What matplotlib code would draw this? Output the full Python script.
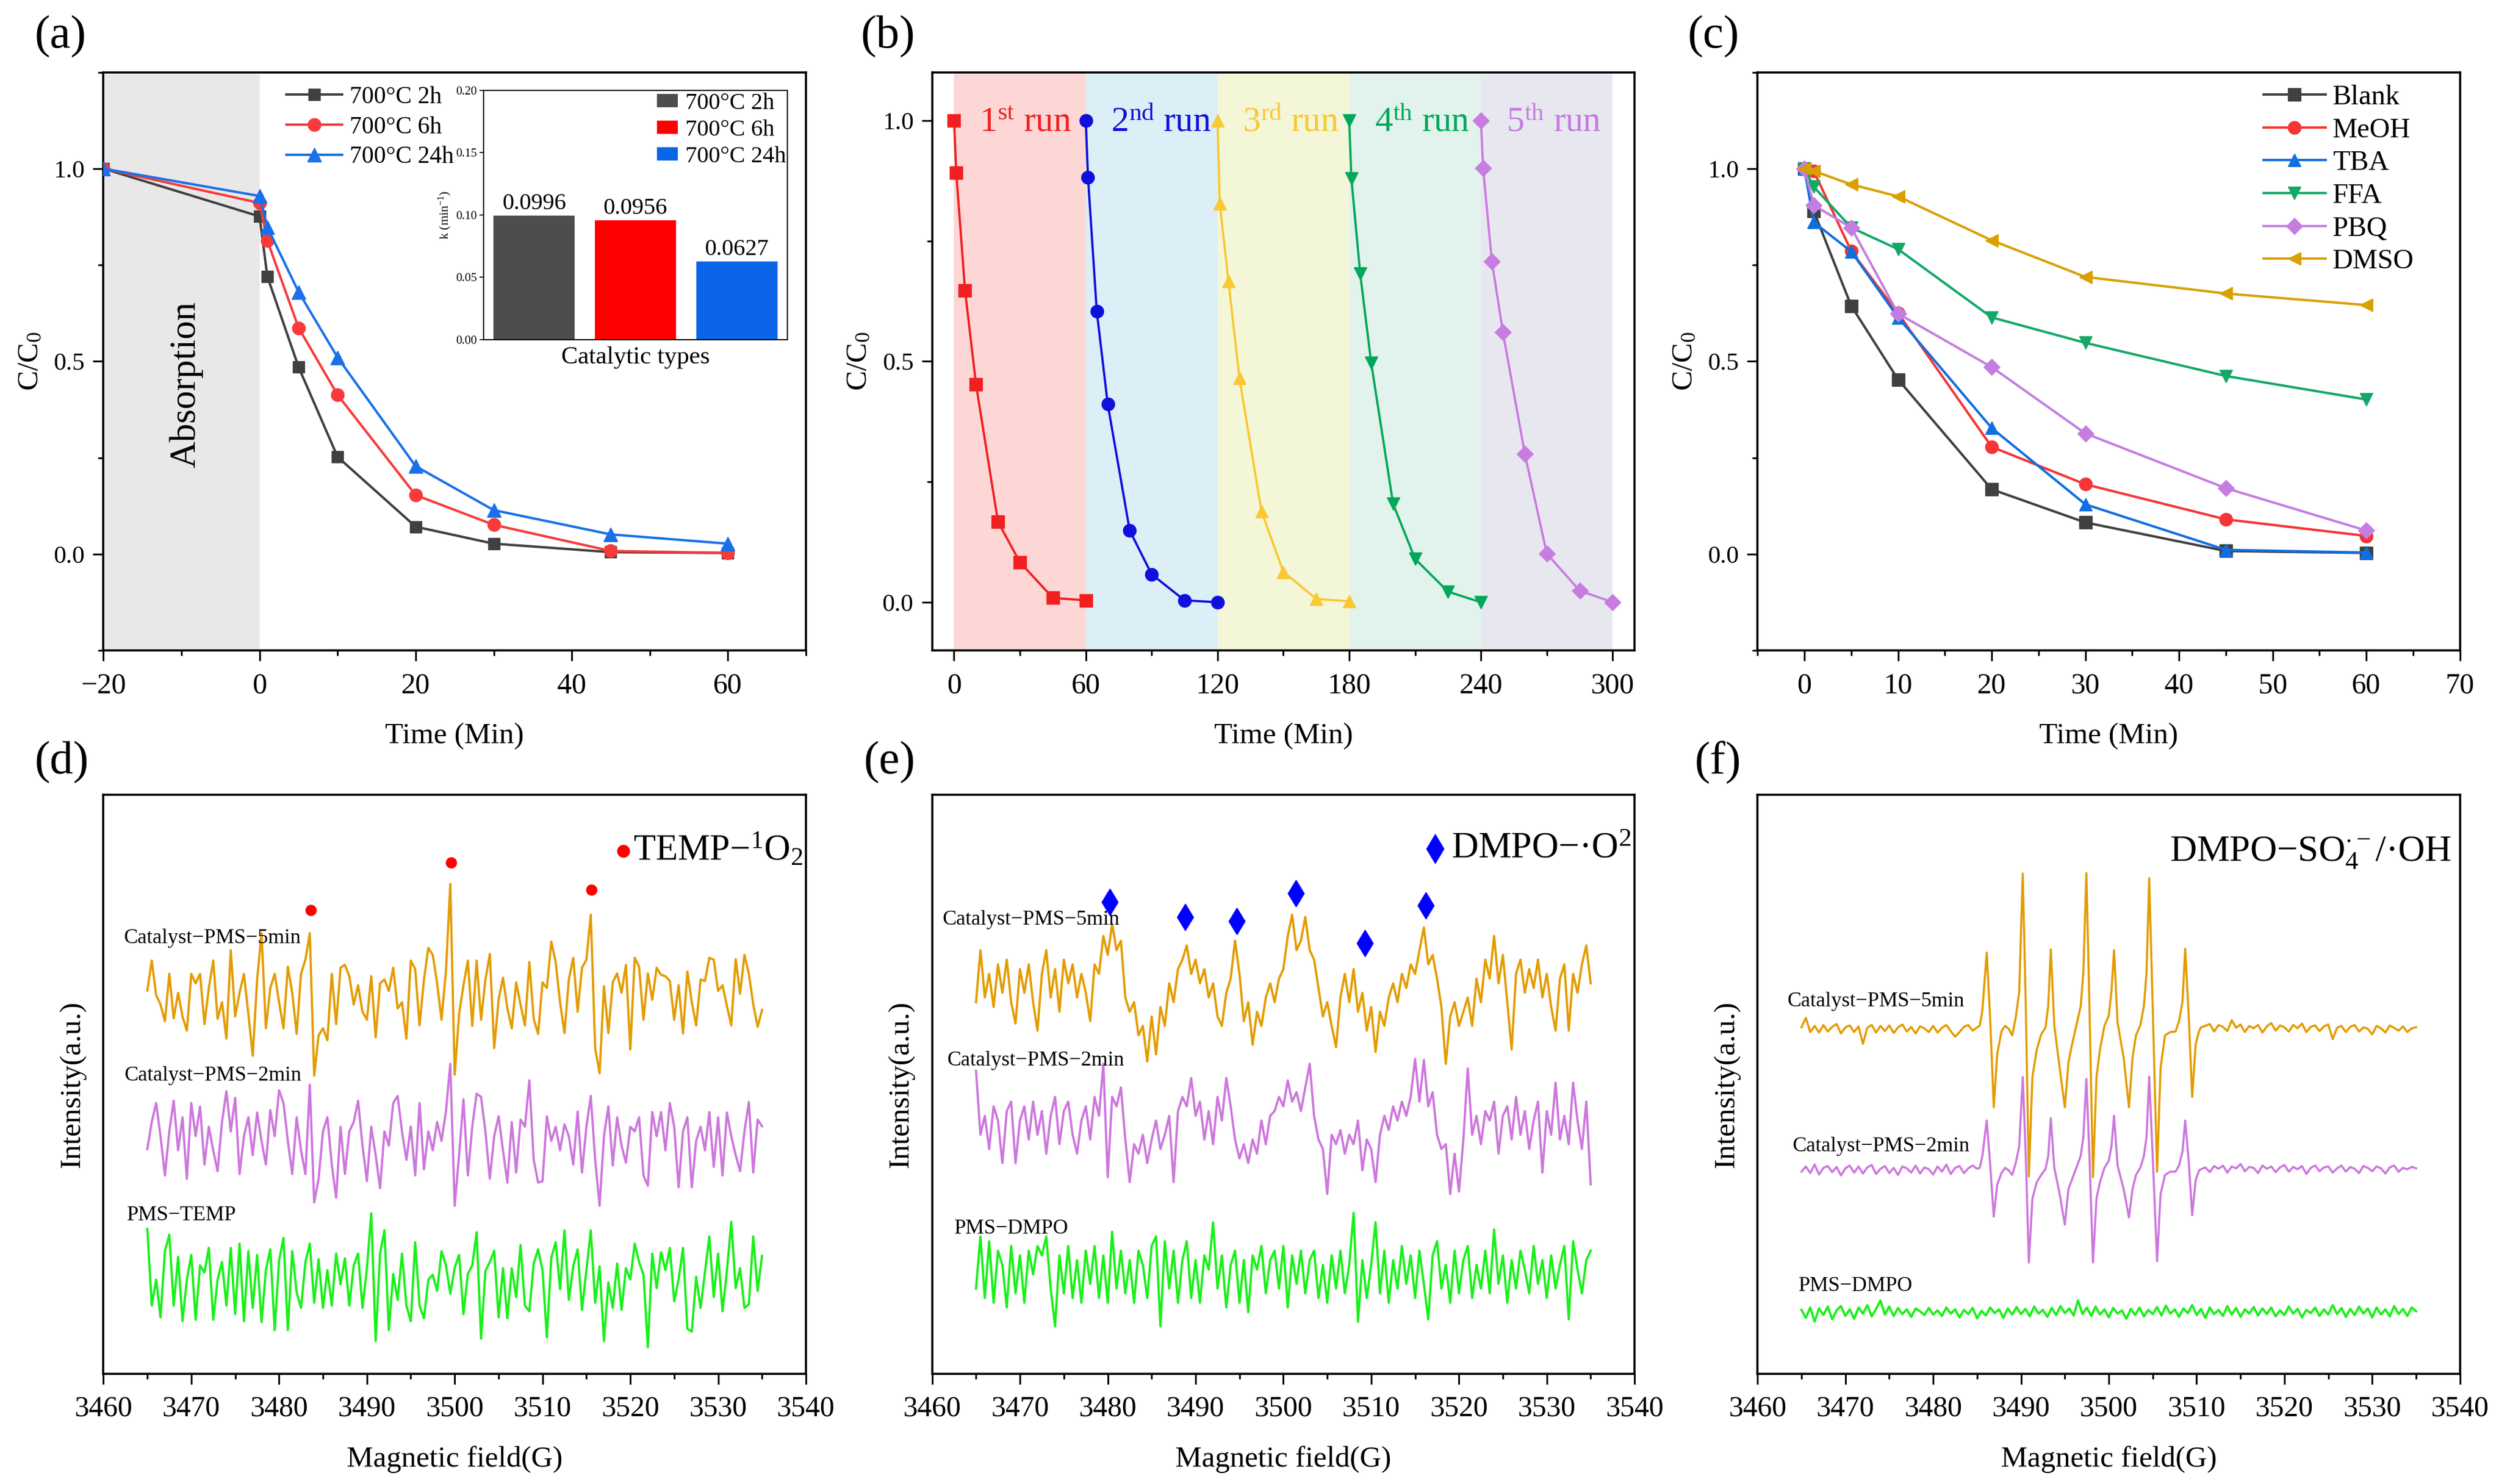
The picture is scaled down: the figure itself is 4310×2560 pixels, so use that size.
import matplotlib
matplotlib.use('Agg')
import matplotlib.pyplot as plt
import numpy as np
from matplotlib.ticker import MultipleLocator, FormatStrFormatter

plt.rcParams['font.family'] = 'serif'
plt.rcParams['font.serif'] = ['Liberation Serif', 'DejaVu Serif']
plt.rcParams['mathtext.fontset'] = 'custom'
plt.rcParams['mathtext.rm'] = 'Liberation Serif'
plt.rcParams['mathtext.it'] = 'Liberation Serif:italic'
plt.rcParams['mathtext.bf'] = 'Liberation Serif:bold'

# ---- (a) degradation vs calcination time ----
A_TIME = [-20, 0, 1, 5, 10, 20, 30, 45, 60]
A_2H = [1.0, 0.876, 0.72, 0.485, 0.252, 0.071, 0.027, 0.005, 0.003]
A_6H = [1.0, 0.911, 0.813, 0.587, 0.413, 0.153, 0.076, 0.008, 0.003]
A_24H = [1.0, 0.929, 0.848, 0.68, 0.51, 0.228, 0.114, 0.051, 0.027]
A_LABELS = ['700°C 2h', '700°C 6h', '700°C 24h']
K_RATE = [0.0996, 0.0956, 0.0627]
K_TEXT = ['0.0996', '0.0956', '0.0627']

# ---- (b) cycling runs ----
B_TIME = [0, 1, 5, 10, 20, 30, 45, 60]
B_START = [0, 60, 120, 180, 240]
B_RUN1 = [1.0, 0.891, 0.647, 0.452, 0.167, 0.083, 0.009, 0.004]
B_RUN2 = [1.0, 0.882, 0.604, 0.411, 0.149, 0.058, 0.004, 0.0]
B_RUN3 = [1.0, 0.828, 0.666, 0.465, 0.189, 0.063, 0.007, 0.002]
B_RUN4 = [1.0, 0.879, 0.682, 0.497, 0.204, 0.090, 0.022, 0.0]
B_RUN5 = [1.0, 0.901, 0.707, 0.561, 0.308, 0.101, 0.024, 0.0]
B_NUM = ['1', '2', '3', '4', '5']
B_SUP = ['st', 'nd', 'rd', 'th', 'th']

# ---- (c) scavengers ----
C_TIME = [0, 1, 5, 10, 20, 30, 45, 60]
C_BLANK = [1.0, 0.89, 0.644, 0.453, 0.168, 0.082, 0.008, 0.003]
C_MEOH = [1.0, 0.994, 0.786, 0.625, 0.278, 0.181, 0.090, 0.047]
C_TBA = [1.0, 0.861, 0.785, 0.614, 0.327, 0.129, 0.011, 0.004]
C_FFA = [1.0, 0.953, 0.847, 0.791, 0.614, 0.548, 0.462, 0.401]
C_PBQ = [1.0, 0.905, 0.847, 0.624, 0.485, 0.313, 0.171, 0.061]
C_DMSO = [1.0, 0.994, 0.959, 0.928, 0.814, 0.719, 0.676, 0.646]
C_LABELS = ['Blank', 'MeOH', 'TBA', 'FFA', 'PBQ', 'DMSO']

# ---- (d) TEMP spectra, sampled every 0.5 G from 3465 to 3535 G ----
D_5MIN = [1.5, 7.8, 0.5, -1.5, -5, 5, -4.4, 1.0, -4, -7, 5, 3, 5, -5.6, 2, 7.8, -4.5, -1,
          -8.7, 10, -4, 1, 5, -3.5, -12.3, 3.8, 13.6, -6.5, 2, 5, -1, -6.5, 6.5, 1, -7.7, 5,
          8, 13.6, -16.5, -8, -6.5, -9, 5, -5.6, 6.3, 6.9, 4.5, -1.5, 2.6, -3, -4.7, 4.5,
          -8.4, 3, 3.8, 1.4, 6.3, -2.3, -1, -8.7, 7.8, 6, -5.9, 3.8, 10.5, 9, 3, -4.7, 5.5,
          24, -16.3, -3.5, 2.6, 7.8, -6, 7.8, -4.7, 3.8, 9.2, -10.7, -0.5, 4.2, -2.3, -6.5,
          3.2, -1.5, -5.9, 7.5, -4.5, -7.7, 3.2, 2.0, 11.8, 7.5, -1, -7.5, 3.8, 8.4, -3,
          6.3, 8, 17.5, -10.8, -16, 2.4, -7.5, 3.2, 5.1, 1, 6.9, -11, 8.4, 6.5, -4.7, 5.1,
          -0.5, 6.3, 4.8, 4.5, 3.5, -4.7, 2.6, -7.6, 5.5, -1, -5.9, 3.8, 3.5, 8.4, 8, 1.4,
          2.6, -1.8, -5.9, 8.1, 0.8, 9, 5, -1.4, -6.2, -2.6]
D_2MIN = [-1.7, 4, 8, 1, -7.3, 2, 8.5, -2, 5, -8, 8, 1, 7.3, -5, 3, -2, -6.4, 4, 10.5, 2,
          9.1, -7, 1, 5, -3, 6, 0, -5, 6.5, 1, 10.7, 8, 0, -7, 5, -2, -7, 11.9, -13, -8, 2,
          5, -5, -12, 3, -7, 2, 4, 8.5, -1, -8.5, 3, -3, -10, 2, -1, 8, 9.5, 2, -4, 3,
          -7.3, 8, -6, 2, -2, 4, 0, 6.2, 16.3, -13.7, -3, 8.8, -7.3, 3, 10, 9.3, 2, -8, 1,
          5.2, -2, -8.8, 4, -6.7, 4.5, 3, 12.8, -4, -8.8, -8.5, 5.2, 0, 3, -2, 3.5, 1, -5,
          6.2, -6.7, 3, 9.5, -4, -13.7, 1, 7.3, -5.2, 5, -1, -4.6, 3, 2, 5, -7.3, -9.5,
          6.1, 1, 6.1, -2, 8, 3, -9.8, 2, 5, -9.8, 0, 3, -2, 6.1, -5.5, 5, -7.3, 6, 1, -3,
          -6.4, 2, 8.2, -6.7, 4.5, 3.1]
D_TEMP = [10.7, -5.5, 0, -8, 6, 9.5, -5.5, 4.8, -8.8, 0, 5.2, -8.5, 3, 1.5, 6.7, -8.5, 0,
          3.7, -5.5, 6.7, -7.3, 7.6, -8.8, 6, -6, 5.2, -9, 2, 6.4, -10.7, 4, 8.8, -10.7, 6,
          -2.7, -6, 3.7, 7.6, -4.9, 4.3, -6, 2, -5.5, 5.5, -1, 4.5, -5.5, 3, 5.5, -6, 2.4,
          14, -13, 5.5, 10.4, -10.7, 1.2, -4.3, 5.5, -5.5, -8.8, 7.9, -5.5, -8.2, 0, 1,
          -2.4, 6, 3, -3, 2.5, 5.2, -7.3, 1.2, 3, 10, -12.5, 1.8, 3.7, 6.1, -8, 2.4, -8.2,
          2.4, -3.7, 7.3, -5.5, -6.7, 3.4, 6.4, 2, -12.2, 4.6, 7.9, -2, 10.4, -4.3, 2.8,
          6.4, -6.4, 2, 10.4, -4.9, 2.8, -13, -0.6, -6, 3.4, -6.4, 2.4, 0, 7.6, 3.7, 1,
          -14.3, 5.5, -1.8, 5.8, 2, 6.7, -4.6, 0, 6.7, -10.4, -11, 0.6, -6, 1.5, 9.1, -3.7,
          5.5, -6.7, 1.8, 12.2, -1.8, 2.4, -6, -5.2, 9.1, -2.4, 5]
D_MARK_FIELD = [3483.6, 3499.6, 3515.6]
D_MARK_Y = [98.0, 108.0, 102.3]

# ---- (e) DMPO-O2 spectra, 0.5 G steps ----
E_5MIN = [-3, 8, -2, 3, -4, 5, -1, 6, -3, -7.5, 4, -1, 5, -3, -9, 3, 8, -2, 4, -5, 6, 1, 5,
          -2, 3, -1, -7, 5, 3, 11, 7, 13.5, 8, 10, -2, -5, -3, -10, -8, -15.5, -6, -14, -4,
          -8, 1, -3, 4, 6, 9, 3, 6, 1, 4, -2, 1, -6, -8, -1, 2, 10, 3, -7, -3, -12, -5, -8,
          -2, 1, -3, 2, 4, 11, 15.5, 8, 10, 15, 8, 6, 0, -6, -3, -8, -12.5, -2, 3, -3, 4,
          -5, -1, -9, -4, -13.5, -5, -8, -2, 1, -3, 3, 0, 5, 3, 8, 12.8, 5, 7, 2, -4, -16,
          -6, -3, -8, -5, -2, -8, 2, -3, 6, 2, 11, 1, 7, -3, -13, 3, 6, -1, 4, 0, 6, -2, 3,
          -4, -9, 2, 5, -9, 3, -1, 5, 9, 1]
E_2MIN = [11.5, -2, 2, -5, 4, 1, -8, 3, 5, -8, 1, 4, -3, 5, -2, 3, -6, 2, 6, -4, 3, 5, -2,
          -6, 1, 4, -3, 6, 2, 13, -11, 6, 4, 8, -3, -12, -4, -6, -2, -8, -3, 1, -5, -2, 2,
          -12, 3, 6, 4, 10, 2, 5, -3, 3, -4, 6, 1, 10, 4, -3, -7, -4, -8, -3, -6, 1, -4, 2,
          3, 6, 4, 9.5, 5, 7, 3, 8, 13, 2, -3, -5, -14.5, -2, -4, -1, -6, -2, -4, 1, -9.5,
          -3, -5, -12, -2, 2, -1, 4, 1, 5, 2, 6, 14, 5, 13.8, 4, 7, -2, -5, -4, -14.5, -6,
          -14, -3, 12, -2, 2, -4, 3, 1, 5, -6, 2, 4, -3, 6, -2, 3, -5, 1, 5, -10, 3, -2, 9,
          -3, 2, -4, 9, 1, -5, 5, -12.5]
E_DMPO = [-3, 8, -5, 7, -6, 5, 2, -7, 6, -4, 4, -6, 5, 0, 6, 4, 8, -3, -11, 4, -4, 6, -5,
          3, -6, 5, -2, 6, -5, 4, -6, 9, -3, 5, -4, 3, -6, 5, 2, -5, 6, 8, -11, 7, -3, 5,
          -6, 3, 7, -5, 3, -6, 4, 1, 11, -3, 4, -7, 2, 5, -6, 3, -8, 4, 1, 6, -4, 3, 5, -3,
          6, -7, 4, -2, 5, -4, 3, 5, -5, 2, -6, 4, -3, 5, -4, 2, 13, -10, 3, -5, 2, 11, -4,
          5, -6, 3, -3, 6, -2, 4, -5, 5, -2, -9.5, 4, 7, -3, 2, -6, 5, -4, 3, 6, -5, 2, -3,
          5, -4, 9.5, -2, 4, -6, 3, -3, 5, 1, -4, 6, -2, 3, -5, 4, -3, 2, 6, -9.5, 7, 1, -4,
          3, 5]
E_MARK_FIELD = [3480.2, 3488.8, 3494.7, 3501.4, 3509.3, 3516.2]
E_MARK_Y = [99.7, 96.5, 95.7, 101.5, 91.0, 99.0]

# ---- (f) DMPO-SO4/OH spectra ----
# flat parts every 0.5 G (3465-3485 and 3510.5-3535), line region read point by point
F_5MIN_LEFT = [0.5, 2.5, -0.5, 0.8, -0.6, 1.0, -0.4, 0.6, 1.2, -0.8, 0.5, 0.9, -0.5, 0.7,
               -3.0, 0.4, 1.0, -0.6, 0.8, -0.3, 0.9, -0.7, 0.5, 1.1, -0.4, 0.6, -0.8, 0.7,
               0.3, -0.5, 0.8, -0.6, 0.4, 1.0, -0.3, -1.5, -0.5, 0.6, 1.0, -0.2, 0.5]
F_5MIN_RIGHT = [0.5, 0.8, 1.2, -0.4, 1.0, 0.6, -0.3, 2.0, 0.4, 1.1, -0.5, 0.8, 0.3, 1.0,
                -0.6, 0.7, 1.4, -0.2, 0.9, 0.5, -0.4, 1.0, 0.3, 1.3, -0.5, 0.6, 0.9, -0.3,
                0.7, 1.1, -2.0, 0.4, 0.8, -0.5, 0.6, 1.0, -0.4, 0.5, 0.2, -1.0, 0.8, 0.3,
                -0.6, 0.9, 0.4, -0.2, 0.7, -0.5, 0.3, 0.5]
F_CENTER_FIELD = [3485.3, 3485.6, 3486.1, 3486.5, 3486.9, 3487.3, 3487.8, 3488.2, 3488.6,
                  3489.0, 3489.4, 3489.8, 3490.2, 3490.55, 3490.9, 3491.3, 3491.8, 3492.3,
                  3492.8, 3493.1, 3493.4, 3493.8, 3494.4, 3495.0, 3495.4, 3495.8, 3496.3,
                  3496.8, 3497.1, 3497.45, 3497.8, 3498.2, 3498.6, 3499.0, 3499.5, 3500.0,
                  3500.3, 3500.6, 3501.0, 3501.7, 3502.3, 3502.7, 3503.1, 3503.6, 3504.0,
                  3504.3, 3504.6, 3505.0, 3505.5, 3505.9, 3506.4, 3507.0, 3507.6, 3508.0,
                  3508.4, 3508.7, 3509.1, 3509.5, 3509.9, 3510.3]
F_5MIN_CENTER = [0.8, 4, 16.3, 2, -16.4, -5, -0.2, 0.8, 0.2, -1.2, 2.5, 8, 33, 5, -31, -10,
                 -4.2, -1, 0.5, 5, 17, 0.8, -8, -16.4, -7, -3.2, 0.8, 5, 12, 33.1, 5, -31.2,
                 -10, -4.2, 0.8, 3, 8, 16.8, 1.5, -6, -16.4, -6, -1.2, 1, 5, 12, 32, 5, -30,
                 -8, -1.2, -0.5, -0.4, 1.8, 6, 17.1, 3, -14.2, -3, -0.2]
F_2MIN_LEFT = [-0.3, 0.8, -0.6, 1.2, -0.9, 0.5, 0.9, -0.4, 0.7, -1.1, 0.4, 1.0, -0.5, 0.8,
               -0.7, 0.6, 1.1, -0.8, 0.3, 0.9, -0.6, 0.5, -1.0, 0.8, 0.4, -0.5, 1.0, -0.7,
               0.6, 0.2, -0.9, 0.8, -0.3, 1.2, -0.8, 0.5, 0.9, -0.6, 0.4, 1.0, 0.3]
F_2MIN_RIGHT = [0.2, 0.6, -0.4, 0.9, 0.3, 1.0, -0.5, 0.8, 0.4, 1.3, -0.2, 0.7, 0.5, -0.6,
                1.0, 0.3, 0.8, -0.4, 0.6, 1.1, -0.3, 0.7, 0.2, 0.9, -0.8, 0.5, 1.0, -0.2,
                0.6, 0.8, -0.5, 0.4, 1.0, -0.3, 0.7, 0.3, -0.6, 0.9, 0.5, -0.2, 0.8, 0.4,
                -0.7, 0.6, 1.0, -0.3, 0.5, 0.2, 0.7, 0.4]
F_2MIN_CENTER = [0.5, 3, 10.5, 1, -9.8, -3, -0.5, 0.5, 0, -1, 1.5, 5, 19.7, 3, -19.5, -6,
                 -2.5, -1, 0.3, 3, 11, 0.5, -5, -11.5, -4, -2, 0.5, 3, 7, 19.3, 3, -19.5,
                 -6, -2.5, 0.5, 2, 5, 11.5, 1, -4, -10, -4, -1, 0.6, 3, 7, 19.8, 3, -19.2,
                 -5, -1, -0.3, -0.3, 1, 4, 10.5, 2, -9.5, -2, 0]
F_DMPO = [0.5, -1.2, 1.0, -2.0, 0.8, -0.6, 1.2, -1.5, 0.4, 1.3, -0.8, 0.6, -1.4, 1.0, -0.3,
          1.5, -0.9, 0.7, 2.5, -0.5, 1.2, -0.8, 0.9, -0.4, 0.6, -1.0, 0.8, 0.2, -0.6, 0.9,
          -0.5, 0.4, -0.8, 1.0, -0.3, 0.6, -1.1, 0.5, -0.4, 0.9, -1.3, 0.3, -0.7, 1.0, -0.2,
          0.6, -1.2, 0.8, -0.5, 1.1, -0.4, 0.7, -0.9, 1.2, -0.3, 0.5, -1.0, 0.9, -0.6, 1.3,
          -0.2, 0.8, -0.7, 2.5, -0.4, 1.0, -0.8, 1.2, -0.5, 0.6, -1.1, 0.9, -0.3, 0.4, -1.4,
          0.7, -0.6, 1.0, -0.9, 0.5, -0.4, 1.1, -0.7, 1.4, -0.3, 0.6, -1.0, 0.8, -0.2, 1.5,
          -0.6, 0.7, -1.2, 1.0, -0.4, 0.5, -0.8, 1.3, -0.5, 0.9, -1.0, 0.6, -0.3, 1.1, -0.7,
          0.8, -0.4, 1.0, -0.9, 0.4, -0.6, 1.2, -0.3, 0.7, -1.1, 0.5, -0.2, 1.0, -0.8, 0.6,
          -0.5, 1.5, -0.4, 0.9, -1.0, 0.7, -0.6, 1.2, -0.3, 0.8, -1.1, 1.0, -0.5, 0.6, -0.9,
          1.3, -0.4, 0.7, -0.8, 1.0, 0.2]

TRACE_LABELS_D = ['Catalyst−PMS−5min', 'Catalyst−PMS−2min', 'PMS−TEMP']
TRACE_LABELS_EF = ['Catalyst−PMS−5min', 'Catalyst−PMS−2min', 'PMS−DMPO']

C5, C2, CG = '#e39c00', '#cd77dd', '#19f019'


def style_axes(ax, xsize=36, ysize=31):
    for s in ax.spines.values():
        s.set_linewidth(2.6)
    ax.tick_params(which='both', direction='out', top=False, right=False, width=2.2)
    ax.tick_params(which='major', length=13)
    ax.tick_params(which='minor', length=6.5)
    ax.tick_params(axis='x', labelsize=xsize, pad=14)
    ax.tick_params(axis='y', labelsize=ysize, pad=10)


def style_kinetic(ax):
    style_axes(ax)
    ax.set_yticks([0.0, 0.5, 1.0])
    ax.yaxis.set_minor_locator(MultipleLocator(0.25))
    ax.yaxis.set_major_formatter(FormatStrFormatter('%.1f'))
    ax.set_xlabel('Time (Min)', fontsize=37, labelpad=29)
    ax.set_ylabel('C/C$_0$', fontsize=37, labelpad=12)


def style_epr(ax):
    style_axes(ax)
    ax.set_xlim(3460, 3540)
    ax.set_ylim(0, 122.3)
    ax.set_xticks(np.arange(3460, 3541, 10))
    ax.xaxis.set_minor_locator(MultipleLocator(5))
    ax.set_yticks([])
    ax.set_xlabel('Magnetic field(G)', fontsize=37, labelpad=29)
    ax.set_ylabel('Intensity(a.u.)', fontsize=37, labelpad=22)


fig = plt.figure(figsize=(43.1, 25.6), dpi=100)
W, H = 0.2811, 0.3896
ax_a = fig.add_axes([0.0414, 0.5617, W, H])
ax_b = fig.add_axes([0.3730, 0.5617, W, H])
ax_c = fig.add_axes([0.7033, 0.5617, W, H])
ax_d = fig.add_axes([0.0414, 0.0743, W, 0.3900])
ax_e = fig.add_axes([0.3730, 0.0743, W, 0.3900])
ax_f = fig.add_axes([0.7033, 0.0743, W, 0.3900])

# (a)
ax_a.axvspan(-20, 0, color='#e8e8e8', lw=0, zorder=0)
for vals, col, mk, ms, lab in zip([A_2H, A_6H, A_24H], ['#404040', '#f83a3a', '#1a70e8'],
                                  ['s', 'o', '^'], [15, 16, 17], A_LABELS):
    ax_a.plot(A_TIME, vals, color=col, marker=mk, ms=ms, lw=3.0, label=lab, zorder=3)
ax_a.set_xlim(-20, 70)
ax_a.set_ylim(-0.25, 1.25)
ax_a.set_xticks([-20, 0, 20, 40, 60])
ax_a.xaxis.set_minor_locator(MultipleLocator(10))
style_kinetic(ax_a)
ax_a.text(-9.4, 0.44, 'Absorption', rotation=90, fontsize=46, ha='center', va='center')
ax_a.legend(loc='upper left', bbox_to_anchor=(0.247, 0.993), frameon=False, fontsize=30,
            handlelength=2.3, labelspacing=0.32, handletextpad=0.3, borderaxespad=0)

ax_in = fig.add_axes([0.1935, 0.7711, 0.1216, 0.168])
for i, (k, col, lab) in enumerate(zip(K_RATE, ['#4d4d4d', '#ff0000', '#0a66e6'], A_LABELS)):
    ax_in.bar(i + 1, k, width=0.8, color=col, label=lab)
    ax_in.text(i + 1, k + 0.001, K_TEXT[i], ha='center', va='bottom', fontsize=29)
ax_in.set_xlim(0.5, 3.5)
ax_in.set_ylim(0, 0.2)
ax_in.set_xticks([])
ax_in.set_yticks([0, 0.05, 0.10, 0.15, 0.20])
ax_in.yaxis.set_major_formatter(FormatStrFormatter('%.2f'))
ax_in.tick_params(axis='y', labelsize=15, length=5, width=1.2, pad=3)
for s in ax_in.spines.values():
    s.set_linewidth(1.5)
ax_in.set_xlabel('Catalytic types', fontsize=31, labelpad=8)
ax_in.set_ylabel('k (min$^{-1}$)', fontsize=16, labelpad=4)
ax_in.legend(loc='upper left', bbox_to_anchor=(0.571, 0.99), frameon=False, fontsize=29,
             handlelength=0.9, handleheight=0.5, labelspacing=0.22, handletextpad=0.3,
             borderaxespad=0, borderpad=0)

# (b)
B_RUNS = [B_RUN1, B_RUN2, B_RUN3, B_RUN4, B_RUN5]
B_COLORS = ['#f02020', '#1010dd', '#f9c833', '#00a85a', '#c87be0']
B_SHADE = ['#fdd6d6', '#dceef6', '#f4f6d8', '#e2f2ec', '#e7e8ef']
B_MARKERS = ['s', 'o', '^', 'v', 'D']
for start, vals, col, shade, mk, n, sup in zip(B_START, B_RUNS, B_COLORS, B_SHADE,
                                               B_MARKERS, B_NUM, B_SUP):
    ax_b.axvspan(start, start + 60, color=shade, lw=0, zorder=0)
    ax_b.plot([start + t for t in B_TIME], vals, color=col, marker=mk,
              ms=14 if mk == 'D' else 16, lw=2.8, zorder=3)
    ax_b.text(start + 11.5, 0.977, n + r'$^{\mathrm{' + sup + '}}$ run', color=col,
              fontsize=44, ha='left', va='baseline')
ax_b.set_xlim(-10, 310)
ax_b.set_ylim(-0.1, 1.1)
ax_b.set_xticks([0, 60, 120, 180, 240, 300])
ax_b.xaxis.set_minor_locator(MultipleLocator(30))
style_kinetic(ax_b)

# (c)
C_SERIES = [C_BLANK, C_MEOH, C_TBA, C_FFA, C_PBQ, C_DMSO]
C_COLORS = ['#404040', '#f53535', '#0f6fe0', '#14a868', '#c47ee0', '#d9a000']
C_MARKERS = ['s', 'o', '^', 'v', 'D', '<']
for vals, col, mk, lab in zip(C_SERIES, C_COLORS, C_MARKERS, C_LABELS):
    ax_c.plot(C_TIME, vals, color=col, marker=mk, ms=14 if mk == 'D' else 16, lw=3.0,
              label=lab, zorder=3)
ax_c.set_xlim(-5, 70)
ax_c.set_ylim(-0.25, 1.25)
ax_c.set_xticks(np.arange(0, 71, 10))
ax_c.xaxis.set_minor_locator(MultipleLocator(5))
style_kinetic(ax_c)
ax_c.legend(loc='upper left', bbox_to_anchor=(0.704, 0.998), frameon=False, fontsize=35,
            handlelength=2.2, labelspacing=0.26, handletextpad=0.25, borderaxespad=0)

# (d)
for vals, col, off in zip([D_5MIN, D_2MIN, D_TEMP], [C5, C2, CG], [79.5, 49.2, 19.9]):
    ax_d.plot(np.linspace(3465, 3535, len(vals)), np.array(vals) + off, color=col, lw=2.8)
for lab, x, y in zip(TRACE_LABELS_D, [3462.3, 3462.4, 3462.7], [92.0, 63.0, 33.5]):
    ax_d.text(x, y, lab, fontsize=26, ha='left', va='center')
ax_d.plot(D_MARK_FIELD, D_MARK_Y, 'o', color='#ff0000', ms=13, ls='none')
ax_d.plot([3519.2], [110.5], 'o', color='#ff0000', ms=15)
ax_d.text(3520.3, 108.5, 'TEMP−$^{1}$O$_{2}$', fontsize=45, ha='left', va='baseline')
style_epr(ax_d)

# (e)
for vals, col, off in zip([E_5MIN, E_2MIN, E_DMPO], [C5, C2, CG], [81.5, 52.5, 21.0]):
    ax_e.plot(np.linspace(3465, 3535, len(vals)), np.array(vals) + off, color=col, lw=2.8)
for lab, x, y in zip(TRACE_LABELS_EF, [3461.2, 3461.7, 3462.5], [96.0, 66.2, 30.7]):
    ax_e.text(x, y, lab, fontsize=26, ha='left', va='center')
ax_e.plot(E_MARK_FIELD, E_MARK_Y, 'd', color='#0000ff', ms=23, ls='none')
ax_e.plot([3517.3], [111.0], 'd', color='#0000ff', ms=25)
ax_e.text(3519.1, 109.0, r'DMPO−·O$^{2-}$', fontsize=46, ha='left', va='baseline',
          clip_on=True)
style_epr(ax_e)

# (f)
F_LEFT_FIELD = np.linspace(3465, 3485, len(F_5MIN_LEFT))
F_RIGHT_FIELD = np.linspace(3510.5, 3535, len(F_5MIN_RIGHT))
f_field = np.concatenate([F_LEFT_FIELD, F_CENTER_FIELD, F_RIGHT_FIELD])
f_5 = np.concatenate([F_5MIN_LEFT, F_5MIN_CENTER, F_5MIN_RIGHT])
f_2 = np.concatenate([F_2MIN_LEFT, F_2MIN_CENTER, F_2MIN_RIGHT])
ax_f.plot(f_field, f_5 + 72.7, color=C5, lw=2.6)
ax_f.plot(f_field, f_2 + 43.0, color=C2, lw=2.6)
ax_f.plot(np.linspace(3465, 3535, len(F_DMPO)), np.array(F_DMPO) + 13.0, color=CG, lw=2.8)
for lab, x, y in zip(TRACE_LABELS_EF, [3463.4, 3464.0, 3464.7], [78.7, 48.0, 18.5]):
    ax_f.text(x, y, lab, fontsize=26, ha='left', va='center')
ax_f.text(3539.0, 108.3, r'DMPO−SO$_{4}^{\cdot-}$/·OH', fontsize=46, ha='right',
          va='baseline')
style_epr(ax_f)

for lab, x, y in [('(a)', 0.0139, 0.9754), ('(b)', 0.3445, 0.9754), ('(c)', 0.6754, 0.9754),
                  ('(d)', 0.0139, 0.4863), ('(e)', 0.3457, 0.4863), ('(f)', 0.6780, 0.4863)]:
    fig.text(x, y, lab, fontsize=58, ha='left', va='center')

fig.savefig('out.png', dpi=100, facecolor='white')
